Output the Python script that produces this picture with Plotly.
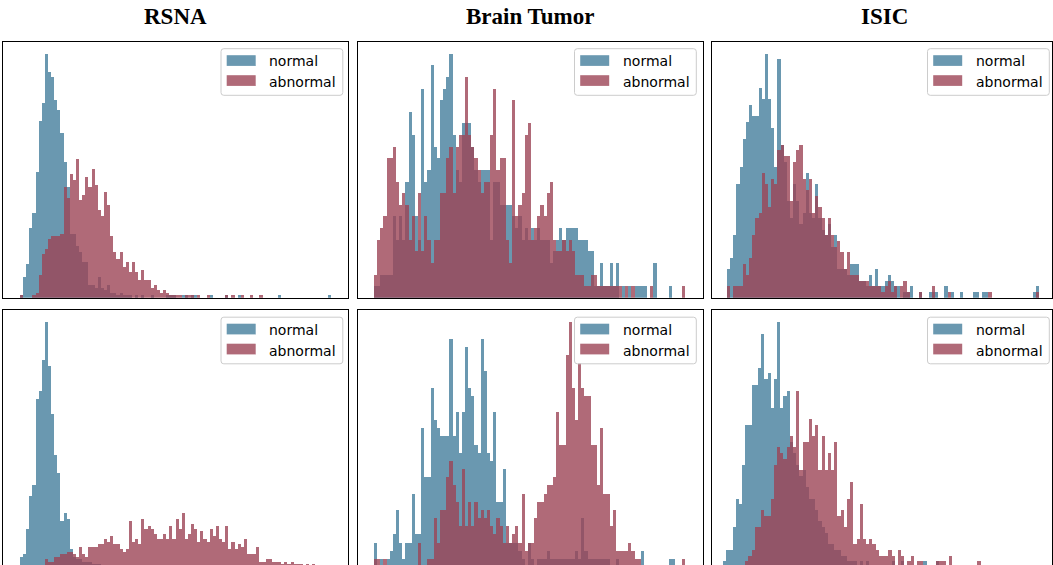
import numpy as np
import plotly.graph_objects as go

# ---------------- data (histogram bin heights, 100 bins per series) ----------------
bins = np.arange(100)

rsna_top_normal = [
    1, 8, 13, 27, 33, 49, 69, 76, 95, 88,
    86, 77, 73, 64, 53, 43, 25, 25, 20, 18,
    14, 14, 5, 5, 4, 8, 4, 3, 5, 2,
    2, 1, 2, 1, 1, 1, 0, 1, 0, 1,
    0, 0, 1, 0, 0, 0, 0, 1, 1, 1,
    0, 0, 1, 1, 0, 1, 1, 0, 0, 0,
    0, 1, 0, 0, 0, 0, 1, 0, 0, 0,
    1, 0, 0, 0, 0, 0, 0, 0, 0, 0,
    0, 0, 0, 1, 0, 0, 0, 0, 0, 0,
    0, 0, 0, 0, 0, 0, 0, 0, 0, 1]
rsna_top_abnormal = [
    1, 0, 0, 0, 1, 2, 9, 17, 19, 23,
    24, 24, 24, 25, 43, 39, 48, 46, 54, 38,
    40, 47, 43, 50, 44, 34, 32, 41, 36, 24,
    18, 15, 18, 12, 14, 10, 14, 10, 7, 11,
    7, 7, 4, 5, 3, 2, 3, 2, 1, 1,
    1, 1, 0, 1, 1, 1, 0, 1, 0, 0,
    1, 0, 0, 0, 0, 0, 1, 0, 1, 0,
    0, 1, 0, 0, 1, 0, 0, 1, 0, 0,
    0, 0, 0, 0, 0, 0, 0, 0, 0, 0,
    0, 0, 0, 0, 0, 0, 0, 0, 0, 0]

rsna_bot_normal = [
    4, 5, 15, 28, 32, 66, 69, 81, 96, 79,
    60, 44, 37, 18, 21, 19, 7, 4, 3, 3,
    2, 2, 2, 1, 1, 1, 0, 0, 0, 0,
    0, 0, 0, 0, 0, 0, 0, 0, 0, 0,
    0, 0, 0, 0, 0, 0, 0, 0, 0, 0,
    0, 0, 0, 0, 0, 0, 0, 0, 0, 0,
    0, 0, 0, 0, 0, 0, 0, 0, 0, 0,
    0, 0, 0, 0, 0, 0, 0, 0, 0, 0,
    0, 0, 0, 0, 0, 0, 0, 0, 0, 0,
    0, 0, 0, 0, 0, 0, 0, 0, 0, 0]
rsna_bot_abnormal = [
    0, 0, 0, 0, 0, 0, 0, 0, 3, 2,
    2, 4, 4, 5, 5, 6, 6, 5, 4, 8,
    5, 4, 8, 8, 8, 9, 9, 11, 10, 12,
    9, 9, 7, 6, 7, 18, 10, 11, 9, 19,
    15, 16, 15, 13, 11, 11, 13, 11, 16, 11,
    19, 15, 21, 11, 13, 17, 15, 10, 14, 11,
    10, 15, 12, 16, 11, 10, 16, 7, 10, 7,
    9, 8, 11, 5, 5, 5, 8, 2, 2, 3,
    3, 2, 2, 2, 1, 2, 1, 2, 1, 1,
    1, 0, 1, 0, 1, 0, 0, 0, 0, 0]

bt_top_normal = [
    1, 1, 2, 2, 2, 2, 7, 5, 7, 5,
    10, 16, 14, 7, 5, 18, 10, 11, 20, 13,
    12, 17, 18, 19, 21, 14, 11, 10, 15, 15,
    15, 13, 11, 10, 11, 11, 11, 5, 10, 10,
    8, 8, 8, 8, 7, 6, 7, 5, 6, 5,
    6, 5, 6, 5, 5, 5, 3, 4, 5, 6,
    5, 6, 6, 6, 6, 5, 5, 5, 4, 4,
    1, 1, 3, 1, 1, 3, 1, 3, 0, 1,
    0, 1, 0, 1, 1, 1, 1, 0, 0, 3,
    0, 0, 0, 0, 1, 0, 0, 0, 0, 0]
bt_top_abnormal = [
    2, 5, 6, 7, 12, 12, 13, 10, 8, 9,
    8, 5, 7, 4, 9, 4, 7, 5, 3, 5,
    5, 9, 9, 12, 13, 9, 13, 14, 14, 19,
    14, 13, 12, 11, 9, 10, 10, 14, 18, 11,
    12, 12, 5, 3, 17, 7, 8, 9, 14, 15,
    5, 6, 7, 8, 7, 9, 10, 5, 4, 4,
    5, 4, 5, 4, 2, 2, 2, 1, 1, 2,
    2, 1, 1, 1, 1, 1, 1, 1, 1, 0,
    1, 0, 1, 0, 0, 0, 0, 0, 1, 0,
    0, 0, 0, 0, 0, 0, 0, 0, 1, 0]

bt_bot_normal = [
    3, 0, 1, 0, 1, 2, 4, 7, 3, 1,
    3, 3, 9, 4, 4, 17, 11, 11, 22, 18,
    17, 16, 16, 16, 28, 16, 19, 14, 19, 27,
    22, 21, 15, 14, 28, 24, 14, 13, 19, 8,
    8, 12, 3, 3, 3, 3, 2, 1, 0, 3,
    1, 0, 1, 1, 1, 2, 1, 1, 1, 1,
    1, 1, 1, 1, 2, 1, 6, 2, 1, 1,
    1, 1, 1, 1, 1, 0, 0, 1, 0, 0,
    0, 0, 0, 0, 0, 2, 0, 0, 0, 0,
    0, 0, 0, 0, 1, 1, 0, 0, 0, 0]
bt_bot_abnormal = [
    1, 1, 0, 1, 0, 0, 0, 0, 0, 0,
    0, 0, 0, 0, 3, 0, 0, 1, 1, 6,
    3, 7, 7, 11, 13, 10, 8, 5, 12, 5,
    8, 5, 8, 6, 7, 6, 7, 5, 4, 6,
    5, 3, 5, 3, 4, 5, 3, 9, 2, 3,
    3, 6, 8, 8, 9, 10, 10, 11, 19, 15,
    15, 26, 30, 22, 18, 25, 22, 21, 21, 15,
    15, 10, 17, 9, 9, 5, 7, 2, 2, 2,
    2, 3, 2, 1, 1, 0, 0, 0, 0, 0,
    0, 0, 0, 0, 0, 0, 0, 0, 1, 0]

isic_top_normal = [
    5, 7, 11, 20, 23, 28, 31, 34, 32, 32,
    37, 35, 43, 35, 30, 23, 42, 27, 24, 17,
    14, 20, 17, 13, 15, 22, 15, 14, 20, 14,
    12, 11, 13, 9, 11, 5, 5, 5, 4, 6,
    6, 6, 3, 3, 2, 4, 2, 5, 2, 2,
    3, 4, 3, 2, 2, 0, 1, 1, 2, 0,
    0, 1, 0, 0, 1, 1, 1, 0, 0, 2,
    0, 1, 0, 0, 1, 0, 0, 0, 1, 1,
    0, 1, 1, 0, 0, 0, 0, 0, 0, 0,
    0, 0, 0, 0, 0, 0, 0, 1, 2, 0]
isic_top_abnormal = [
    2, 0, 2, 2, 2, 6, 4, 7, 11, 14,
    15, 22, 20, 16, 21, 20, 26, 27, 25, 25,
    17, 24, 26, 27, 21, 19, 21, 15, 18, 16,
    14, 11, 14, 11, 9, 10, 8, 5, 8, 4,
    4, 4, 3, 3, 3, 2, 2, 2, 2, 1,
    2, 3, 1, 2, 0, 2, 3, 1, 0, 0,
    0, 1, 0, 0, 0, 2, 0, 0, 0, 0,
    1, 0, 0, 0, 0, 0, 0, 0, 0, 0,
    0, 0, 0, 1, 0, 0, 0, 0, 0, 0,
    0, 0, 0, 0, 0, 0, 0, 0, 1, 0]

isic_bot_normal = [
    1, 3, 3, 7, 12, 11, 18, 25, 25, 32,
    32, 35, 41, 33, 34, 28, 33, 43, 28, 30,
    31, 22, 20, 18, 16, 17, 14, 12, 12, 10,
    8, 7, 6, 4, 4, 3, 3, 2, 2, 1,
    1, 1, 0, 1, 0, 1, 0, 0, 0, 0,
    0, 0, 0, 1, 0, 0, 1, 0, 0, 0,
    0, 0, 0, 1, 0, 0, 0, 1, 0, 0,
    0, 0, 0, 0, 0, 0, 0, 0, 0, 0,
    0, 0, 0, 0, 0, 0, 0, 0, 0, 0,
    0, 0, 0, 0, 0, 0, 0, 0, 0, 0]
isic_bot_abnormal = [
    0, 0, 0, 0, 0, 0, 0, 1, 2, 3,
    7, 7, 10, 9, 9, 12, 18, 21, 20, 19,
    21, 23, 21, 31, 17, 22, 22, 26, 23, 25,
    17, 23, 17, 20, 17, 22, 9, 10, 7, 12,
    15, 4, 5, 11, 5, 4, 5, 4, 3, 2,
    2, 2, 3, 2, 0, 3, 2, 0, 1, 2,
    0, 1, 1, 0, 0, 0, 0, 1, 1, 1,
    0, 2, 0, 0, 0, 0, 0, 0, 0, 0,
    1, 0, 0, 0, 0, 0, 0, 0, 0, 0,
    0, 0, 0, 0, 0, 0, 0, 0, 0, 0]

titles = ["RSNA", "Brain Tumor", "ISIC"]
series_names = ["normal", "abnormal"]

# ---------------- styling / layout ----------------
W, H = 1053, 565
NORMAL_A = "rgba(69,126,156,0.8)"
ABN_A = "rgba(156,69,86,0.8)"


def X(p):
    return p / W


def Y(p):
    return 1 - p / H


cols_px = [(2.7, 348.3), (357.5, 703.0), (712.0, 1052.0)]
title_cx = [175.5, 530.0, 884.0]
legend_right = [342.8, 696.3, 1049.3]
rows_px = [(41.5, 297.8, 297.8), (310.0, 565.0, 567.0)]  # top, visible bottom, true bottom

panels = [
    # row, col, normal, abnormal, first-bin left px, bin width px
    (0, 0, rsna_top_normal, rsna_top_abnormal, 20.0, 3.11),
    (0, 1, bt_top_normal, bt_top_abnormal, 374.0, 3.14),
    (0, 2, isic_top_normal, isic_top_abnormal, 727.0, 3.15),
    (1, 0, rsna_bot_normal, rsna_bot_abnormal, 20.0, 3.11),
    (1, 1, bt_bot_normal, bt_bot_abnormal, 374.0, 3.14),
    (1, 2, isic_bot_normal, isic_bot_abnormal, 723.0, 3.18),
]

fig = go.Figure()
layout_axes = {}
shapes = []
annotations = []


def rr_path(x0, y0, x1, y1, r):
    return (f"M {X(x0 + r)},{Y(y0)} L {X(x1 - r)},{Y(y0)} "
            f"Q {X(x1)},{Y(y0)} {X(x1)},{Y(y0 + r)} L {X(x1)},{Y(y1 - r)} "
            f"Q {X(x1)},{Y(y1)} {X(x1 - r)},{Y(y1)} L {X(x0 + r)},{Y(y1)} "
            f"Q {X(x0)},{Y(y1)} {X(x0)},{Y(y1 - r)} L {X(x0)},{Y(y0 + r)} "
            f"Q {X(x0)},{Y(y0)} {X(x0 + r)},{Y(y0)} Z")


for i, (r, c, nvals, avals, start_px, bw) in enumerate(panels, start=1):
    xn = "x" if i == 1 else f"x{i}"
    yn = "y" if i == 1 else f"y{i}"
    xk = "xaxis" if i == 1 else f"xaxis{i}"
    yk = "yaxis" if i == 1 else f"yaxis{i}"
    x0, x1 = cols_px[c]
    top, vis_bot, true_bot = rows_px[r]

    fig.add_trace(go.Bar(x=bins, y=nvals, width=1, name=series_names[0],
                         marker=dict(color=NORMAL_A, line=dict(width=0)),
                         xaxis=xn, yaxis=yn, showlegend=False))
    fig.add_trace(go.Bar(x=bins, y=avals, width=1, name=series_names[1],
                         marker=dict(color=ABN_A, line=dict(width=0)),
                         xaxis=xn, yaxis=yn, showlegend=False))

    xr = [(x0 - start_px) / bw - 0.5, (x1 - start_px) / bw - 0.5]
    ymax = max(max(nvals), max(avals)) * 1.05
    ylo = ymax * (true_bot - vis_bot) / (true_bot - top)

    common = dict(showticklabels=False, ticks="", showgrid=False, zeroline=False,
                  linecolor="black", linewidth=1, fixedrange=True)
    if r == 0:
        layout_axes[xk] = dict(domain=[X(x0), X(x1)], range=xr, anchor=yn,
                               showline=True, mirror=True, **common)
    else:
        layout_axes[xk] = dict(domain=[X(x0), X(x1)], range=xr, anchor=yn,
                               showline=True, mirror=False, side="top", **common)
    layout_axes[yk] = dict(domain=[Y(vis_bot), Y(top)], range=[ylo, ymax], anchor=xn,
                           showline=True, mirror=True, **common)

    # legend (matplotlib-like, upper right)
    br = legend_right[c]
    bt = top + 7.2
    shapes.append(dict(type="path", xref="paper", yref="paper",
                       path=rr_path(br - 121.8, bt, br, bt + 46.6, 2.8),
                       fillcolor="rgba(255,255,255,0.8)",
                       line=dict(color="#cccccc", width=1), layer="above"))
    for k, (col, dy) in enumerate([(NORMAL_A, 6.5), (ABN_A, 26.5)]):
        shapes.append(dict(type="rect", xref="paper", yref="paper",
                           x0=X(br - 116.1), x1=X(br - 87.1),
                           y0=Y(bt + dy + 10.7), y1=Y(bt + dy),
                           fillcolor=col, line=dict(width=0), layer="above"))
        annotations.append(dict(xref="paper", yref="paper", x=X(br - 74.8),
                                y=Y(bt + 12.3 + 21 * k), text=series_names[k],
                                showarrow=False, xanchor="left", yanchor="middle",
                                borderpad=0,
                                font=dict(family="DejaVu Sans", size=14, color="black")))

for c in range(3):
    annotations.append(dict(xref="paper", yref="paper", x=X(title_cx[c]), y=Y(16),
                            text=f"<b>{titles[c]}</b>", showarrow=False,
                            xanchor="center", yanchor="middle",
                            font=dict(family="Liberation Serif", size=23, color="black")))

fig.update_layout(
    width=W, height=H, margin=dict(l=0, r=0, t=0, b=0),
    paper_bgcolor="white", plot_bgcolor="white",
    barmode="overlay", bargap=0, showlegend=False,
    shapes=shapes, annotations=annotations, **layout_axes)

fig.write_html("out.html",
               config={"displayModeBar": False, "staticPlot": True},
               post_script="document.body.style.margin='0';document.body.style.overflow='hidden';")
